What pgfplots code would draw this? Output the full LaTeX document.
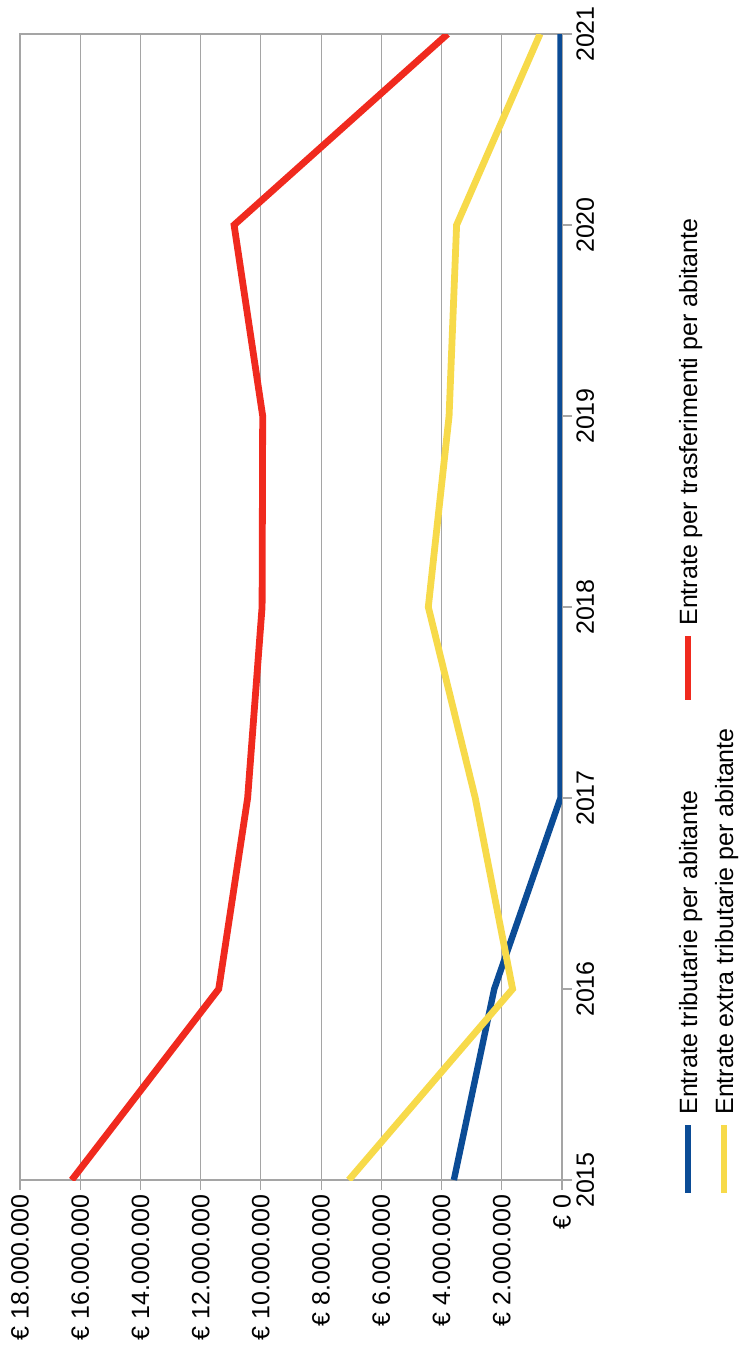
\documentclass[border=0pt]{standalone}
\usepackage{pgfplots}
\pgfplotsset{compat=1.18}
\usepackage{fontspec}
\setmainfont{Liberation Sans}
\definecolor{serieblu}{RGB}{11,76,150}
\definecolor{serierossa}{RGB}{240,42,30}
\definecolor{seriegialla}{RGB}{247,218,74}
\definecolor{griglia}{RGB}{165,165,165}
\newcommand{\etichetta}{\fontsize{12.5}{15}\selectfont}
\begin{document}
\begin{tikzpicture}
\path[use as bounding box] (0,0) rectangle (370.5pt,680.5pt);
\begin{axis}[
  at={(10pt,90.5pt)}, anchor=south west,
  width=271pt, height=573pt, scale only axis,
  x dir=reverse,
  xmin=0, xmax=18000000, ymin=2015, ymax=2021,
  scaled x ticks=false, scaled y ticks=false,
  xtick={0,2000000,4000000,6000000,8000000,10000000,12000000,14000000,16000000,18000000},
  xticklabels={€ 0,€ 2.000.000,€ 4.000.000,€ 6.000.000,€ 8.000.000,€ 10.000.000,€ 12.000.000,€ 14.000.000,€ 16.000.000,€ 18.000.000},
  ytick={2015,2016,2017,2018,2019,2020,2021},
  yticklabels={2015,2016,2017,2018,2019,2020,2021},
  xmajorgrids,
  grid style={griglia, line width=0.6pt},
  axis line style={griglia, line width=0.6pt},
  tick style={griglia, line width=0.6pt},
  tick align=outside, major tick length=5pt,
  xtick pos=bottom, ytick pos=right,
  xticklabel pos=bottom, yticklabel pos=right,
  xticklabel style={rotate=90, anchor=east, inner sep=2pt, font=\etichetta},
  yticklabel style={rotate=90, anchor=north, inner sep=2pt, font=\etichetta},
]
\addplot[serieblu, line width=3.2pt] coordinates {
  (3590000,2015) (2250000,2016) (50000,2017) (50000,2018)
  (50000,2019) (50000,2020) (50000,2021)};
\addplot[serierossa, line width=3.4pt] coordinates {
  (16280000,2015) (11400000,2016) (10440000,2017) (9960000,2018)
  (9940000,2019) (10890000,2020) (3800000,2021)};
\addplot[seriegialla, line width=3.4pt] coordinates {
  (7080000,2015) (1640000,2016) (2880000,2017) (4440000,2018)
  (3750000,2019) (3500000,2020) (730000,2021)};
\end{axis}
% legenda ruotata come il resto del grafico
\begin{scope}[font=\etichetta]
  \draw[serieblu, line width=3pt] (344pt,84pt) -- (344pt,118pt);
  \node[rotate=90, anchor=base west, inner sep=0pt] at (348.5pt,123pt)
    {Entrate tributarie per abitante};
  \draw[seriegialla, line width=3pt] (362pt,84pt) -- (362pt,118pt);
  \node[rotate=90, anchor=base west, inner sep=0pt] at (366.5pt,123pt)
    {Entrate extra tributarie per abitante};
  \draw[serierossa, line width=3pt] (344pt,330.5pt) -- (344pt,362.5pt);
  \node[rotate=90, anchor=base west, inner sep=0pt] at (348.5pt,367.5pt)
    {Entrate per trasferimenti per abitante};
\end{scope}
\end{tikzpicture}
\end{document}
